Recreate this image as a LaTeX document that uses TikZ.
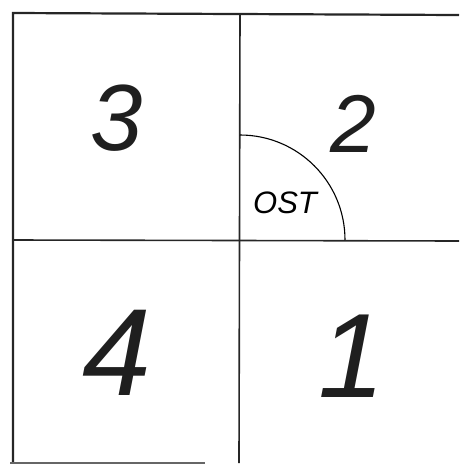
\documentclass[tikz,border=0pt]{standalone}
\usepackage{fontspec}
\setmainfont{Liberation Sans}
\begin{document}
\begin{tikzpicture}[x=1pt,y=-1pt,
  border/.style={line width=2.2pt,black!85},
  inner/.style={line width=1.6pt,black!85},
  digit/.style={inner sep=0pt,anchor=center,text=black!88},
  label/.style={inner sep=0pt,anchor=center}]
\useasboundingbox (0,0) rectangle (459,464);
\coordinate (tl) at (13,13);
\coordinate (tr) at (459,15);
\coordinate (bl) at (13,463);
\coordinate (bb) at (205,463);
\coordinate (ml) at (13,240);
\coordinate (mr) at (459,241);
\coordinate (vt) at (240,13);
\coordinate (vb) at (239,463);
\coordinate (c) at (240,240);
\draw[border] (bl) -- (tl) -- (tr);
\draw[line width=1.6pt,black!60] (10,463) -- (bb);
\draw[inner] (ml) -- (mr);
\draw[inner] (vt) -- (vb);
\draw[line width=1.1pt] ([yshift=105pt]c) arc[start angle=90,end angle=0,radius=105pt];
\node[label] (ost) at (285,203) {\fontsize{31}{31}\selectfont\itshape OST};
\node[digit] (n3) at (117,118) {\fontsize{94}{94}\selectfont\itshape 3};
\node[digit] (n2) at (353,124) {\fontsize{82}{82}\selectfont\itshape 2};
\node[digit] (n4) at (117,353) {\fontsize{124}{124}\selectfont\itshape 4};
\node[digit] (n1) at (352,356) {\fontsize{120}{120}\selectfont\itshape 1};
\end{tikzpicture}
\end{document}
